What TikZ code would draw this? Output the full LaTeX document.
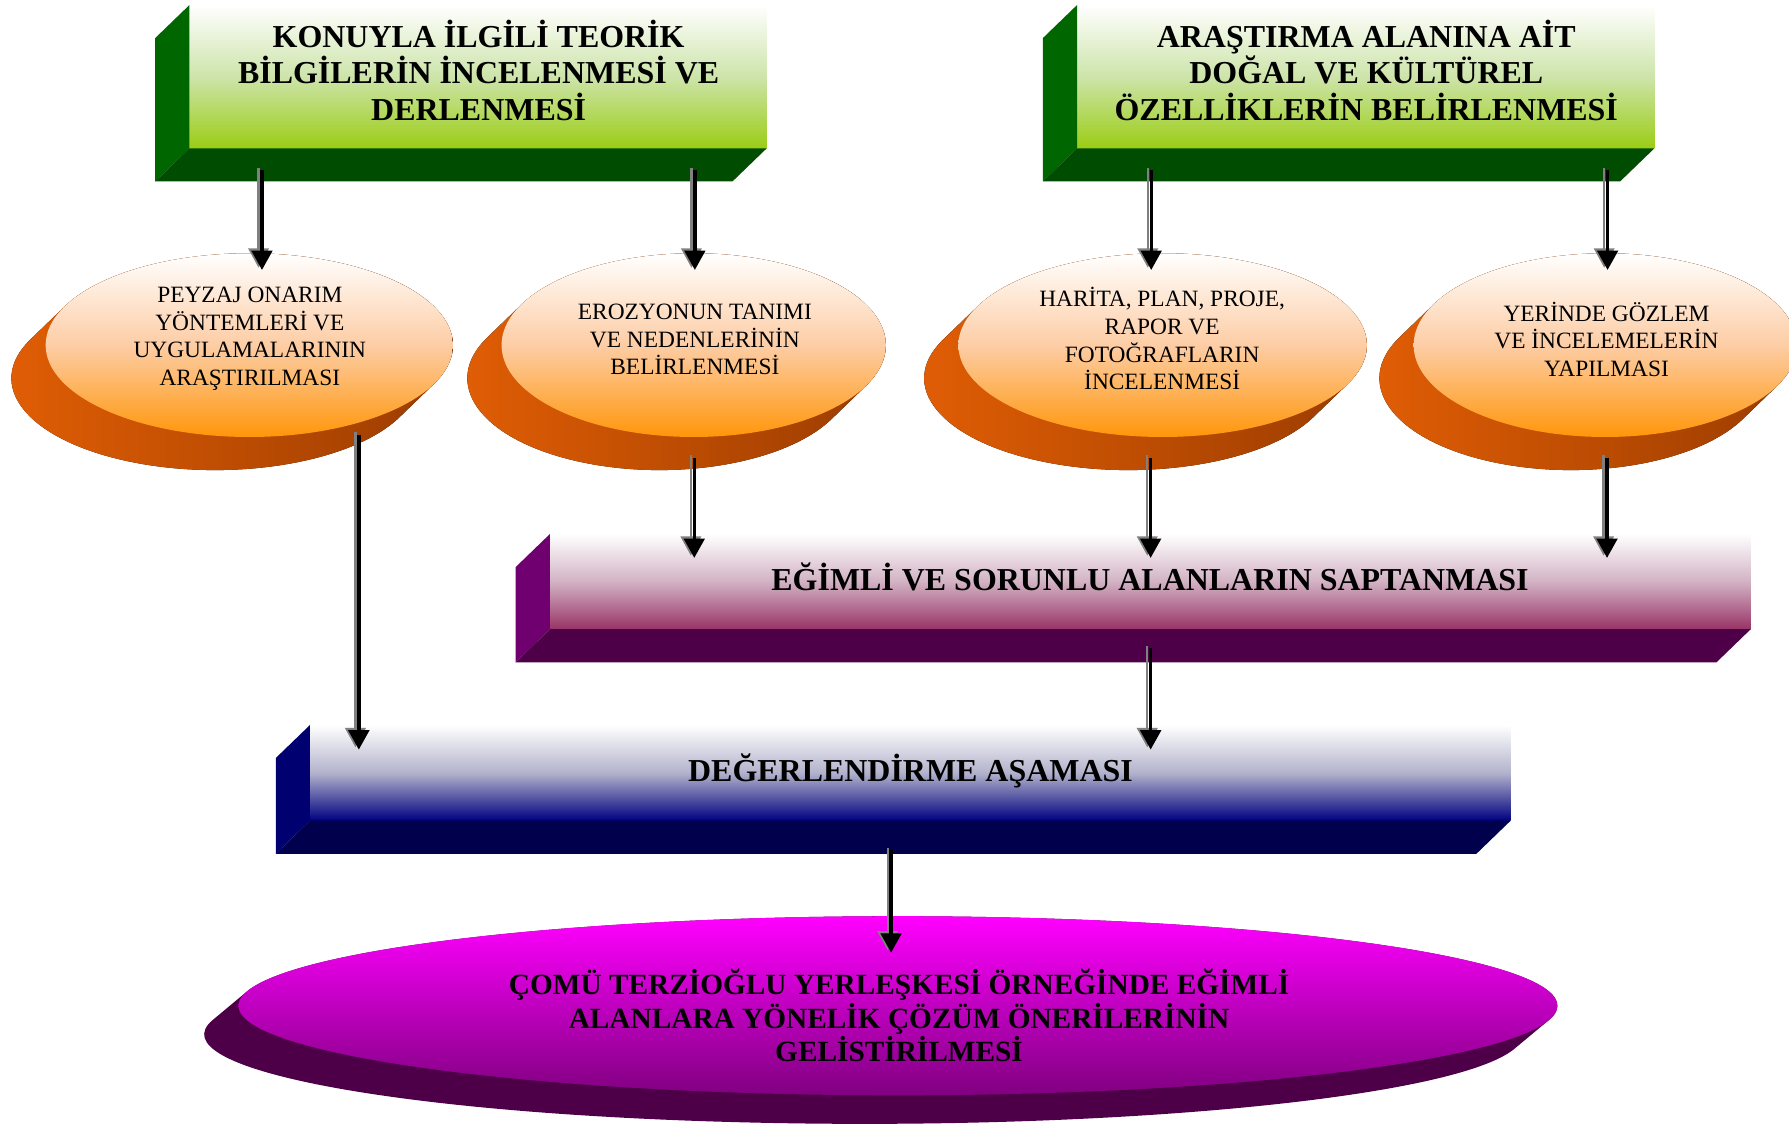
\documentclass[tikz,border=0pt]{standalone}
\usepackage{fontspec}
\setmainfont{Liberation Serif}
\usetikzlibrary{shapes.geometric,arrows.meta,calc}

\definecolor{gfront}{RGB}{155,205,20}
\definecolor{gmid}{RGB}{205,228,170}
\definecolor{gside}{RGB}{0,102,0}
\definecolor{gbot}{RGB}{0,76,0}
\definecolor{ofront}{RGB}{255,150,10}
\definecolor{omid}{RGB}{253,205,165}
\definecolor{oshL}{RGB}{228,95,5}
\definecolor{oshR}{RGB}{150,58,0}
\definecolor{pfront}{RGB}{153,51,102}
\definecolor{pmid}{RGB}{210,178,196}
\definecolor{pside}{RGB}{112,0,112}
\definecolor{pbot}{RGB}{77,0,71}
\definecolor{nfront}{RGB}{0,0,128}
\definecolor{nmid}{RGB}{178,178,204}
\definecolor{nside}{RGB}{0,0,112}
\definecolor{nbot}{RGB}{0,0,77}
\definecolor{mtop}{RGB}{255,0,255}
\definecolor{mbot}{RGB}{128,0,128}
\definecolor{msh}{RGB}{77,0,71}

\tikzset{
  front/.style={rectangle, inner sep=0pt, outer sep=0pt},
  gface/.style={front, top color=white, bottom color=gfront, middle color=gmid},
  pface/.style={front, top color=white, bottom color=pfront, middle color=pmid},
  nface/.style={front, top color=white, bottom color=nfront, middle color=nmid},
  oface/.style={ellipse, inner sep=0pt, outer sep=0pt, top color=white, bottom color=ofront, middle color=omid},
  mface/.style={ellipse, inner sep=0pt, outer sep=0pt, top color=mtop, bottom color=mbot},
  oshade/.style={left color=oshL, right color=oshR},
  btext/.style={font=\fontsize{28}{32}\selectfont\bfseries, align=center, inner sep=0pt},
  etext/.style={font=\fontsize{20.5}{24.3}\selectfont, align=center, inner sep=0pt},
  mtext/.style={font=\fontsize{25.7}{29}\selectfont\bfseries, align=center, inner sep=0pt},
  flow/.style={line width=3pt, draw=black, -{Triangle[width=18pt,length=17pt]}},
  flowsh/.style={line width=2pt, draw=gray, -{Triangle[width=18pt,length=17pt]}},
}

\newcommand\mkdepth[3]{%
  \fill[#2] (#1.north west) -- (#1.south west) -- ($(#1.south west)+(-30pt,-29pt)$) -- ($(#1.north west)+(-30pt,-29pt)$) -- cycle;
  \fill[#3] (#1.south west) -- (#1.south east) -- ($(#1.south east)+(-30pt,-29pt)$) -- ($(#1.south west)+(-30pt,-29pt)$) -- cycle;}

\newcommand\ellshadow[7]{%
  \pgfmathsetmacro\sha{atan(-(#5*#4)/(#6*#3))}%
  \pgfmathsetmacro\shb{\sha+180}%
  \pgfmathsetmacro\shc{\sha+360}%
  \fill[#7] ($(#1,#2)+(\shb:#3pt and #4pt)$) -- ++(-#5pt,-#6pt)
     arc[start angle=\shb, end angle=\shc, x radius=#3pt, y radius=#4pt]
     -- ++(#5pt,#6pt)
     arc[start angle=\sha, end angle=\shb, x radius=#3pt, y radius=#4pt] -- cycle;}

\newcommand\flowarrow[2]{%
  \draw[flowsh, transform canvas={shift={(-3pt,2pt)}}] (#1) -- (#2);
  \draw[flow] (#1) -- (#2);}

\begin{document}
\begin{tikzpicture}[x=1pt,y=-1pt]
\useasboundingbox (0,0) rectangle (1568,986);
\clip (0,0) rectangle (1568,986);
\fill[white] (0,0) rectangle (1568,986);

% green boxes
\node[gface, minimum width=506pt, minimum height=125.6pt] (tlbox) at (419,67.2) {};
\mkdepth{tlbox}{gside}{gbot}
\node[btext] (tlt) at (419.5,61.5) {KONUYLA İLGİLİ TEORİK\\BİLGİLERİN İNCELENMESİ VE\\DERLENMESİ};

\node[gface, minimum width=506pt, minimum height=125.6pt] (trbox) at (1197,67.2) {};
\mkdepth{trbox}{gside}{gbot}
\node[btext] (trt) at (1197.5,61.5) {ARAŞTIRMA ALANINA AİT\\DOĞAL VE KÜLTÜREL\\ÖZELLİKLERİN BELİRLENMESİ};

% orange ellipses
\ellshadow{218.5}{302.5}{178.5}{80.5}{30}{29}{oshade}
\node[oface, minimum width=357pt, minimum height=161pt] (e1) at (218.5,302.5) {};
\node[etext] (e1t) at (219,297) {PEYZAJ ONARIM\\YÖNTEMLERİ VE\\UYGULAMALARININ\\ARAŞTIRILMASI};

\ellshadow{608}{302.5}{168.4}{80.5}{30}{29}{oshade}
\node[oface, minimum width=336.8pt, minimum height=161pt] (e2) at (608,302.5) {};
\node[etext] (e2t) at (609,297.5) {EROZYONUN TANIMI\\VE NEDENLERİNİN\\BELİRLENMESİ};

\ellshadow{1019}{302.5}{179}{80.5}{30}{29}{oshade}
\node[oface, minimum width=358pt, minimum height=161pt] (e3) at (1019,302.5) {};
\node[etext] (e3t) at (1018.6,297) {HARİTA, PLAN, PROJE,\\RAPOR VE\\FOTOĞRAFLARIN\\İNCELENMESİ};

\ellshadow{1407}{302.5}{168}{80.5}{30}{29}{oshade}
\node[oface, minimum width=336pt, minimum height=161pt] (e4) at (1407,302.5) {};
\node[etext] (e4t) at (1408,297.5) {YERİNDE GÖZLEM\\VE İNCELEMELERİN\\YAPILMASI};

% purple box
\node[pface, minimum width=1052.4pt, minimum height=83.5pt] (pbox) at (1008.2,509.75) {};
\mkdepth{pbox}{pside}{pbot}
\node[btext] (pt) at (1008,506) {EĞİMLİ VE SORUNLU ALANLARIN SAPTANMASI};

% navy box
\node[nface, minimum width=1052.3pt, minimum height=83.9pt] (nbox) at (797.85,677.35) {};
\mkdepth{nbox}{nside}{nbot}
\node[btext] (nt) at (798,676) {DEĞERLENDİRME AŞAMASI};

% magenta ellipse
\ellshadow{787}{881.5}{578}{78.5}{30}{25}{msh}
\node[mface, minimum width=1156pt, minimum height=157pt] (mell) at (787,881.5) {};
\node[mtext] (mt) at (788,890) {ÇOMÜ TERZİOĞLU YERLEŞKESİ ÖRNEĞİNDE EĞİMLİ\\ALANLARA YÖNELİK ÇÖZÜM ÖNERİLERİNİN\\GELİSTİRİLMESİ};

% arrow end points
\coordinate (a1s) at (229.6,149);  \coordinate (a1e) at (229.6,236.6);
\coordinate (a2s) at (609,149);    \coordinate (a2e) at (609,236.6);
\coordinate (a3s) at (1009,149);   \coordinate (a3e) at (1009,236.6);
\coordinate (a4s) at (1409,149);   \coordinate (a4e) at (1409,236.6);
\coordinate (a5s) at (314.5,381);  \coordinate (a5e) at (314.5,657);
\coordinate (a6s) at (608.5,401);  \coordinate (a6e) at (608.5,489);
\coordinate (a7s) at (1008.5,401); \coordinate (a7e) at (1008.5,489);
\coordinate (a8s) at (1408.5,401); \coordinate (a8e) at (1408.5,489);
\coordinate (a9s) at (1008.5,568); \coordinate (a9e) at (1008.5,657);
\coordinate (a10s) at (781,745);   \coordinate (a10e) at (781,835);

\flowarrow{a1s}{a1e}
\flowarrow{a2s}{a2e}
\flowarrow{a3s}{a3e}
\flowarrow{a4s}{a4e}
\flowarrow{a5s}{a5e}
\flowarrow{a6s}{a6e}
\flowarrow{a7s}{a7e}
\flowarrow{a8s}{a8e}
\flowarrow{a9s}{a9e}
\flowarrow{a10s}{a10e}
\end{tikzpicture}
\end{document}
